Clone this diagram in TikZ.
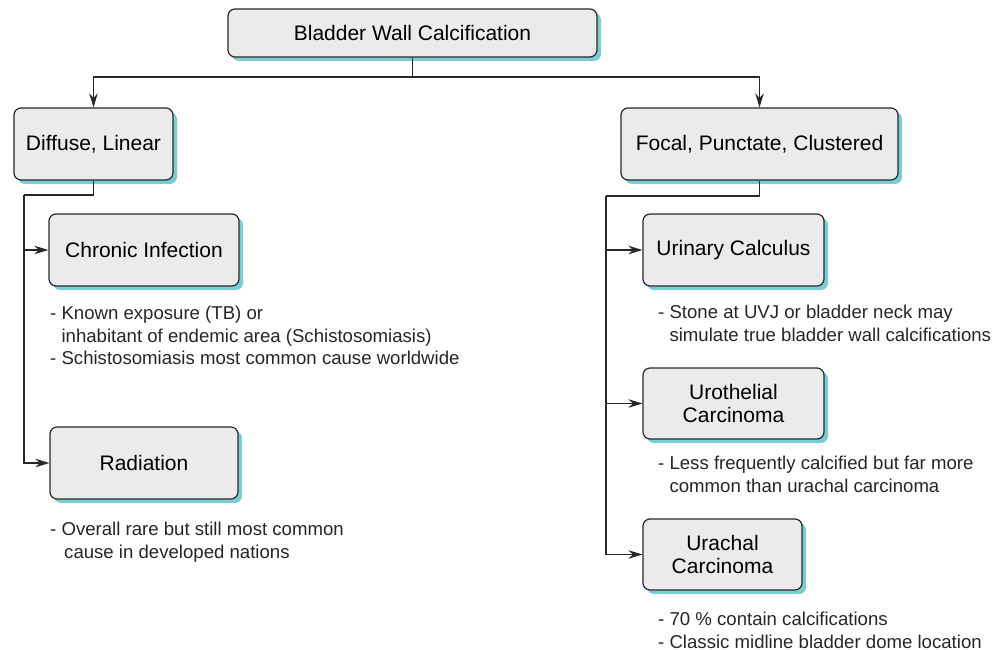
\documentclass[tikz,border=0pt]{standalone}
\usepackage{fontspec}
\setmainfont{Liberation Sans}
\usetikzlibrary{arrows.meta,shadows}
\definecolor{boxfill}{RGB}{235,235,235}
\definecolor{boxline}{RGB}{40,40,40}
\definecolor{shade}{RGB}{122,206,211}
% notes are top-aligned tabulars so that the node baseline is the first line
\newcommand{\notelines}[1]{\begin{tabular}[t]{@{}l@{}}#1\end{tabular}}
\begin{document}
\begin{tikzpicture}[x=1pt,y=-1pt,
  cat/.style={draw=boxline, line width=1.2pt, fill=boxfill, rounded corners=7pt,
    inner sep=0pt, align=center, font=\fontsize{21}{23.5}\selectfont,
    drop shadow={shadow xshift=4pt, shadow yshift=-4pt, fill=shade, opacity=1}},
  note/.style={anchor=base west, inner sep=0pt,
    font=\fontsize{18.6}{22.5}\selectfont, text=black!85},
  link/.style={draw=boxline, line width=1.2pt},
  tip/.style={link, -{Stealth[length=14pt,width=8.5pt,inset=4.5pt]}}]
\useasboundingbox (0,0) rectangle (1002,650);

% category boxes
\node[cat, minimum width=369pt, minimum height=48pt] (top) at (412.5,33) {Bladder Wall Calcification};
\node[cat, minimum width=159pt, minimum height=72pt] (diffuse) at (93.5,144) {Diffuse, Linear};
\node[cat, minimum width=277pt, minimum height=72pt] (focal) at (759.5,144) {Focal, Punctate, Clustered};
\node[cat, minimum width=190pt, minimum height=72pt] (chronic) at (144,250) {Chronic Infection};
\node[cat, minimum width=188pt, minimum height=72pt] (radiation) at (144,463) {Radiation};
\node[cat, minimum width=181pt, minimum height=72pt] (urinary) at (733.5,250) {Urinary Calculus};
\node[cat, minimum width=181pt, minimum height=71pt] (urothelial) at (733.5,403.5) {Urothelial\\Carcinoma};
\node[cat, minimum width=159pt, minimum height=71pt] (urachal) at (722.5,554.5) {Urachal\\Carcinoma};

% notes under the boxes
\node[note] (n1) at (50,319.5) {\notelines{- Known exposure (TB) or\\\phantom{- }inhabitant of endemic area (Schistosomiasis)\\- Schistosomiasis most common cause worldwide}};
\node[note] (n2) at (50,535.5) {\notelines{- Overall rare but still most common\\\hspace{14pt}cause in developed nations}};
\node[note] (n3) at (658,318.5) {\notelines{- Stone at UVJ or bladder neck may\\\phantom{- }simulate true bladder wall calcifications}};
\node[note] (n4) at (658,469.5) {\notelines{- Less frequently calcified but far more\\\phantom{- }common than urachal carcinoma}};
\node[note] (n5) at (658,625.5) {\notelines{- 70 \% contain calcifications\\- Classic midline bladder dome location}};

% connectors
\coordinate (tb) at (412.5,77);
\coordinate (lb) at (24,195);
\coordinate (rb) at (606,196);
\draw[tip] (top.south) -- (tb) -| (diffuse.north);
\draw[tip] (tb) -| (focal.north);
\draw[link] (diffuse.south) |- (lb);
\draw[tip] (lb) |- (chronic.west);
\draw[tip] (lb) |- (radiation.west);
\draw[link] (focal.south) |- (rb);
\draw[tip] (rb) |- (urinary.west);
\draw[tip] (rb) |- (urothelial.west);
\draw[tip] (rb) |- (urachal.west);
\end{tikzpicture}
\end{document}
